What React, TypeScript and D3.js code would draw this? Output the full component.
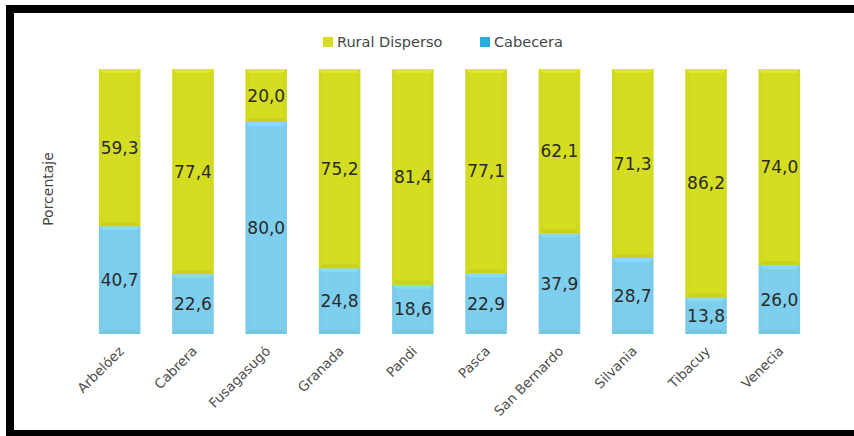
import React from "react";
import * as d3 from "d3";

const categories = ["Arbelóez", "Cabrera", "Fusagasugó", "Granada", "Pandi", "Pasca", "San Bernardo", "Silvania", "Tibacuy", "Venecia"];
const cabecera = [40.7, 22.6, 80.0, 24.8, 18.6, 22.9, 37.9, 28.7, 13.8, 26.0];
const ruralDisperso = [59.3, 77.4, 20.0, 75.2, 81.4, 77.1, 62.1, 71.3, 86.2, 74.0];
const seriesNames = ["Rural Disperso", "Cabecera"];

const W = 854;
const H = 436;
const FONT = "'DejaVu Sans', sans-serif";
const YELLOW = "#d5dd20";
const BLUE = "#7ecfee";

function Bevel({ x, y, w, h, color }: { x: number; y: number; w: number; h: number; color: string }) {
  const b = Math.min(4, h / 2);
  const light = d3.color(color)!.brighter(0.25).formatHex();
  const dark = d3.color(color)!.darker(0.25).formatHex();
  const mid = d3.color(color)!.darker(0.1).formatHex();
  const pts = (p: number[][]) => p.map((q) => q.join(",")).join(" ");
  return (
    <g>
      <rect x={x} y={y} width={w} height={h} fill={color} />
      <polygon points={pts([[x, y], [x + w, y], [x + w - b, y + b], [x + b, y + b]])} fill={light} opacity={0.6} />
      <polygon points={pts([[x, y + h], [x + w, y + h], [x + w - b, y + h - b], [x + b, y + h - b]])} fill={dark} opacity={0.6} />
      <polygon points={pts([[x, y], [x + b, y + b], [x + b, y + h - b], [x, y + h]])} fill={mid} opacity={0.5} />
      <polygon points={pts([[x + w, y], [x + w - b, y + b], [x + w - b, y + h - b], [x + w, y + h]])} fill={mid} opacity={0.5} />
    </g>
  );
}

export default function App() {
  const x = d3.scaleBand<string>().domain(categories).range([83, 816]).paddingInner(0.435).paddingOuter(0.2175);
  const y = d3.scaleLinear().domain([0, 100]).range([334, 69]);
  const bw = x.bandwidth();
  const fmt = (v: number) => v.toFixed(1).replace(".", ",");

  return (
    <svg width={W} height={H} style={{ position: "absolute", left: 0, top: 0, background: "#fff" }} fontFamily={FONT}>
      <rect x={0} y={0} width={W} height={H} fill="#fff" />
      {/* frame */}
      <rect x={6} y={5} width={W - 6} height={8} fill="#000" />
      <rect x={6} y={5} width={8} height={431} fill="#000" />
      <rect x={6} y={430} width={W - 6} height={6} fill="#000" />

      {/* legend */}
      <rect x={323} y={37} width={10} height={10} fill={YELLOW} />
      <text x={337} y={47} fontSize={14.5} fill="#454545">{seriesNames[0]}</text>
      <rect x={480} y={37} width={10} height={10} fill="#29abe2" />
      <text x={494} y={47} fontSize={14.5} fill="#454545">{seriesNames[1]}</text>

      {/* y title */}
      <text transform={`translate(53,189) rotate(-90)`} textAnchor="middle" fontSize={14} fill="#454545">Porcentaje</text>

      {categories.map((c, i) => {
        const bx = x(c)!;
        const cab = cabecera[i];
        const rur = ruralDisperso[i];
        const yCabTop = y(cab);
        const yRurTop = y(cab + rur);
        return (
          <g key={c}>
            <Bevel x={bx} y={yCabTop} w={bw} h={y(0) - yCabTop} color={BLUE} />
            <Bevel x={bx} y={yRurTop} w={bw} h={yCabTop - yRurTop} color={YELLOW} />
            <text x={bx + bw / 2} y={(yRurTop + yCabTop) / 2} dy="0.36em" textAnchor="middle" fontSize={17} fill="#2a2a2a">{fmt(rur)}</text>
            <text x={bx + bw / 2} y={(yCabTop + y(0)) / 2} dy="0.36em" textAnchor="middle" fontSize={17} fill="#2a2a2a">{fmt(cab)}</text>
            <text transform={`translate(${bx + bw / 2 + 5},${352}) rotate(-45)`} textAnchor="end" fontSize={13.5} fill="#505050">{c}</text>
          </g>
        );
      })}
    </svg>
  );
}
